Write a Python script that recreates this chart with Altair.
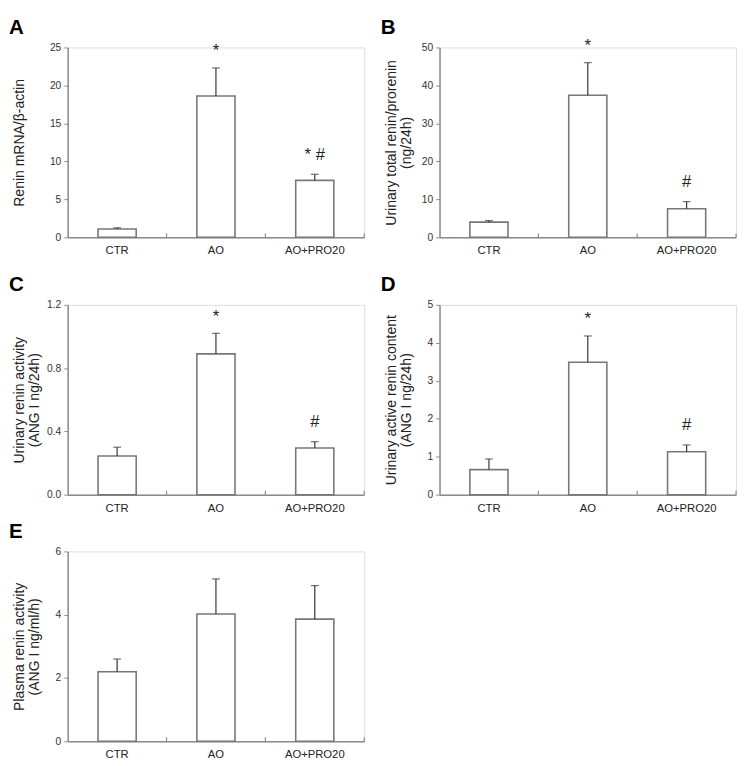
import altair as alt
import pandas as pd

groups = ["CTR", "AO", "AO+PRO20"]

a_mean = [1.1, 18.6, 7.5]
a_err = [1.25, 22.3, 8.3]
a_note = ["", "*", "* #"]

b_mean = [4.0, 37.4, 7.5]
b_err = [4.4, 46.0, 9.4]
b_note = ["", "*", "#"]

c_mean = [0.245, 0.89, 0.295]
c_err = [0.30, 1.02, 0.335]
c_note = ["", "*", "#"]

d_mean = [0.66, 3.49, 1.13]
d_err = [0.94, 4.18, 1.31]
d_note = ["", "*", "#"]

e_mean = [2.2, 4.02, 3.86]
e_err = [2.6, 5.13, 4.92]
e_note = ["", "", ""]

a_ticks = [0, 5, 10, 15, 20, 25]
b_ticks = [0, 10, 20, 30, 40, 50]
c_ticks = [0.0, 0.4, 0.8, 1.2]
d_ticks = [0, 1, 2, 3, 4, 5]
e_ticks = [0, 2, 4, 6]

W, H = 303, 194
FONT = "Liberation Sans"
AXIS_GREY = "#8a8a8a"


def panel(letter, mean, err, note, title, ticks, fmt):
    df = pd.DataFrame({"g": groups, "mean": mean, "err": err, "note": note})
    xs = alt.Scale(domain=groups, paddingInner=0.614, paddingOuter=0.307)
    x = alt.X("g:N", sort=groups, scale=xs,
              axis=alt.Axis(title=None, ticks=False, labelAngle=0, labelPadding=8,
                            labelFontSize=11.5, labelColor="#222", labelFont=FONT,
                            domainColor=AXIS_GREY, domainWidth=1.5))
    y = alt.Y("mean:Q", scale=alt.Scale(domain=[ticks[0], ticks[-1]], nice=False),
              axis=alt.Axis(values=ticks, tickCount=len(ticks), format=fmt, title=title,
                            grid=False, labelOverlap=False,
                            titleFont=FONT, titleFontSize=14.3, titleFontWeight="normal",
                            titleColor="#222", titleAngle=-90, titleAlign="center",
                            titleBaseline="top", titleX=-56, titleY=H / 2,
                            titleLineHeight=15,
                            labelFont=FONT, labelFontSize=10.5, labelColor="#333",
                            labelPadding=3, tickSize=4, tickColor=AXIS_GREY,
                            domainColor=AXIS_GREY, domainWidth=1.5))
    base = alt.Chart(df)
    xb = alt.X("g:N", sort=groups)
    bars = base.mark_bar(fill="white", stroke="#777777", strokeWidth=1.6).encode(x=x, y=y)
    whisk = base.mark_rule(color="#333333", strokeWidth=1.2).encode(
        x=xb, y=alt.Y("mean:Q"), y2="err:Q")
    caps = base.mark_tick(color="#333333", orient="horizontal", size=8, thickness=1.2).encode(
        x=xb, y=alt.Y("err:Q"))
    seps = base.mark_rule(color=AXIS_GREY, strokeWidth=1.2, xOffset=W / 6).encode(
        x=xb, y=alt.value(H - 4), y2=alt.value(H))
    stars = base.transform_filter("datum.note == '*'").mark_text(
        font=FONT, fontSize=17, baseline="alphabetic", dy=-12, color="#222").encode(
        x=xb, y=alt.Y("err:Q"), text="note:N")
    hashes = base.transform_filter("indexof(datum.note, '#') >= 0").mark_text(
        font=FONT, fontSize=17, baseline="alphabetic", dy=-15, color="#222").encode(
        x=xb, y=alt.Y("err:Q"), text="note:N")
    label = alt.Chart(pd.DataFrame({"t": [letter]})).mark_text(
        font=FONT, fontSize=21, fontWeight="bold", align="left", baseline="alphabetic",
        color="black").encode(x=alt.value(-60), y=alt.value(-14), text="t:N")
    return alt.layer(bars, whisk, caps, seps, stars, hashes, label).properties(
        width=W, height=H)


A = panel("A", a_mean, a_err, a_note, "Renin mRNA/β-actin", a_ticks, "d")
B = panel("B", b_mean, b_err, b_note, ["Urinary total renin/prorenin", "(ng/24h)"], b_ticks, "d")
C = panel("C", c_mean, c_err, c_note, ["Urinary renin activity", "(ANG I ng/24h)"], c_ticks, ".1f")
D = panel("D", d_mean, d_err, d_note, ["Urinary active renin content", "(ANG I ng/24h)"], d_ticks, "d")
E = panel("E", e_mean, e_err, e_note, ["Plasma renin activity", "(ANG I ng/ml/h)"], e_ticks, "d")

row1 = alt.hconcat(A, B, spacing=14)
row2 = alt.hconcat(C, D, spacing=14)
top = alt.vconcat(row1, row2, spacing=17)

chart = alt.vconcat(top, E, spacing=6).properties(
    padding={"left": 0, "top": 0, "right": 0, "bottom": 0}
).configure_view(stroke=None).configure(font=FONT)

chart.save("out.html", embed_options={"renderer": "svg", "actions": False})
